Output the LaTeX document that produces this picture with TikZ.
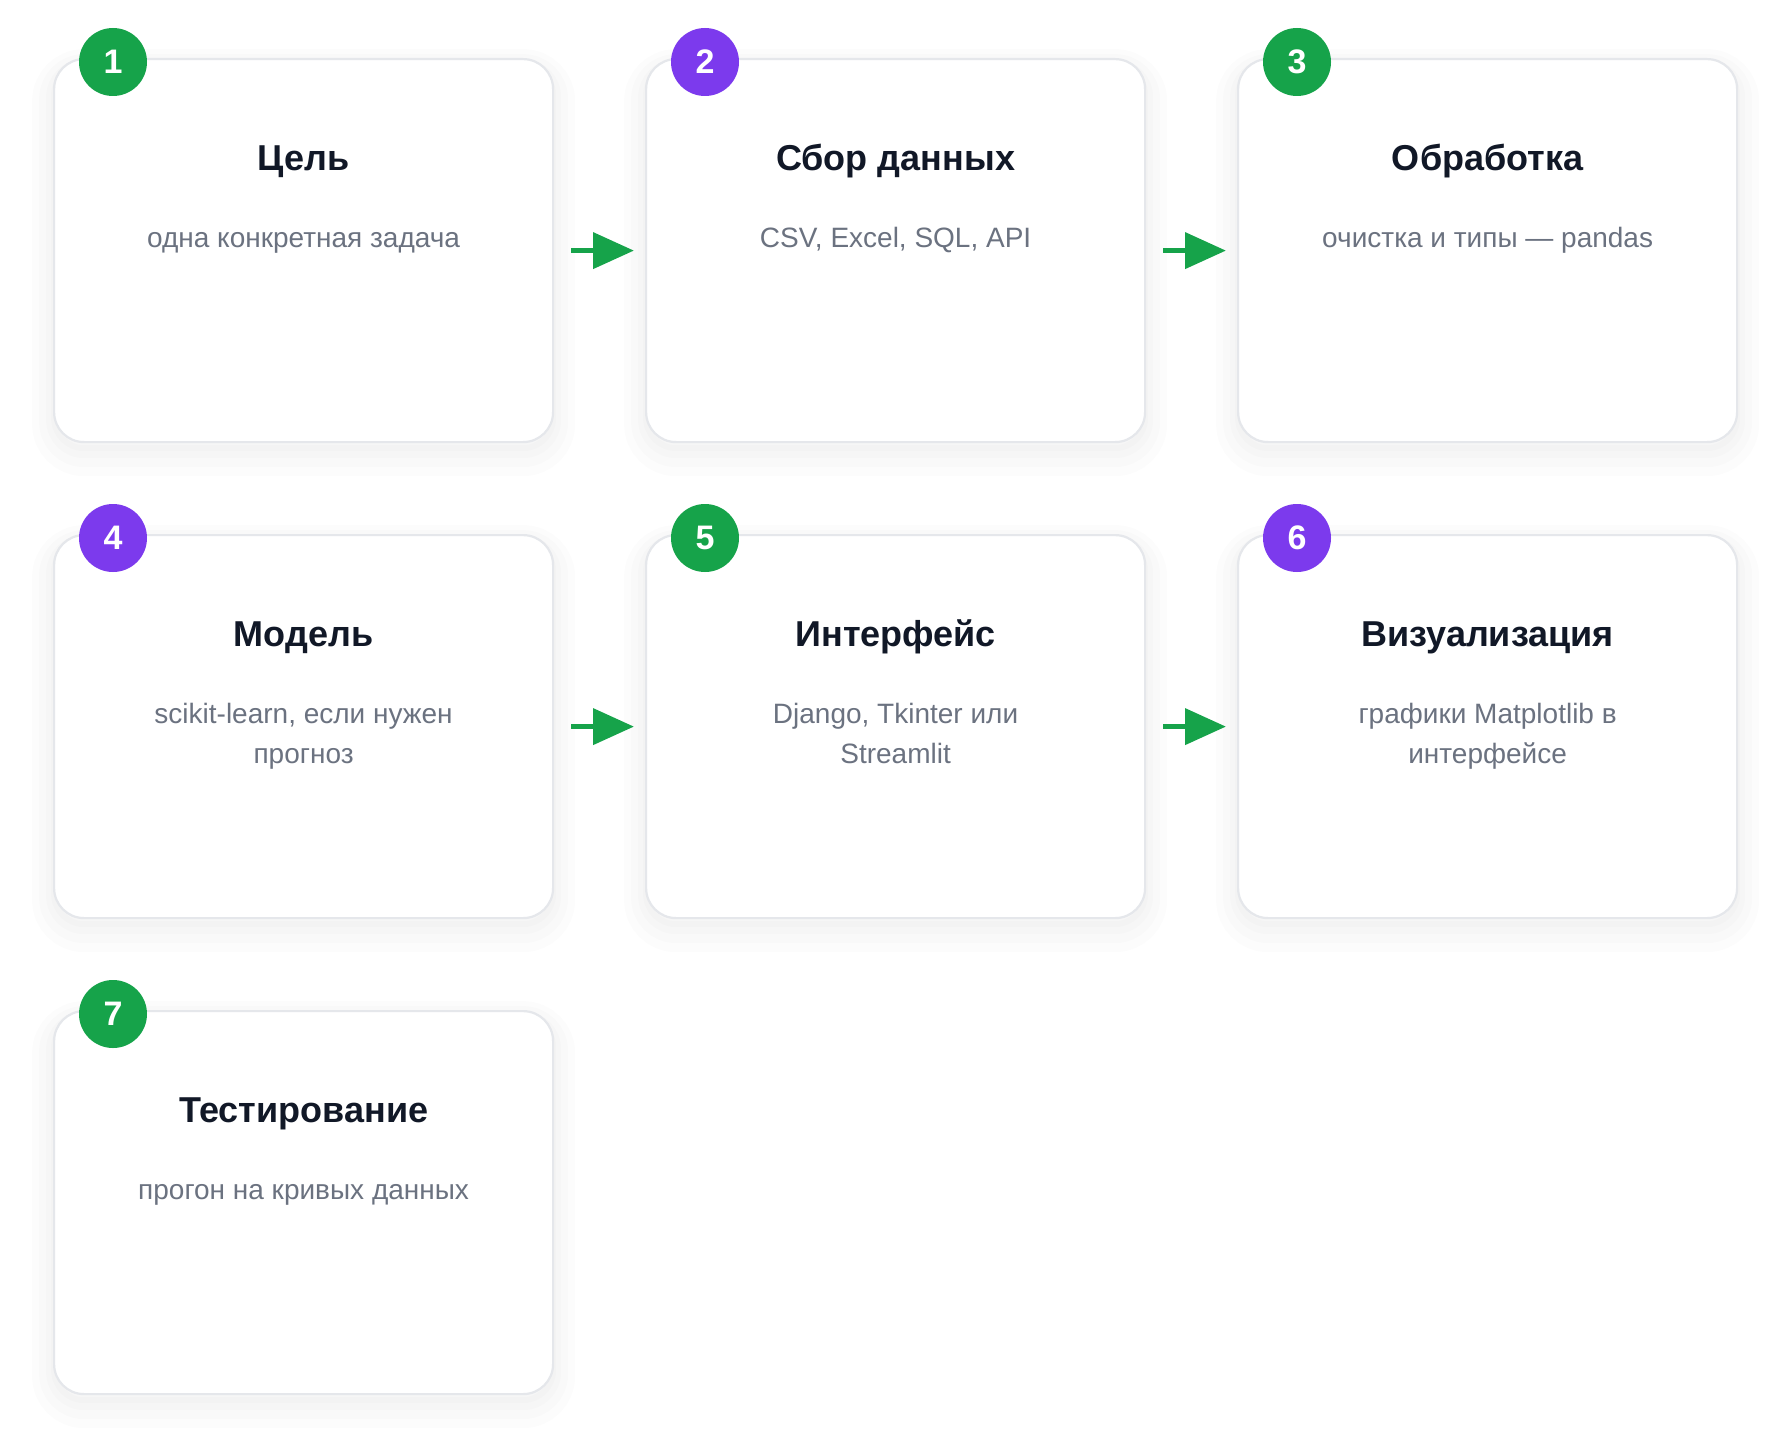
\documentclass[tikz,border=0pt]{standalone}
\usepackage{fontspec}
\setmainfont{Liberation Sans}
\usetikzlibrary{arrows.meta}
\definecolor{stepgreen}{HTML}{16A34A}
\definecolor{steppurple}{HTML}{7C3AED}
\definecolor{cardline}{HTML}{E5E7EB}
\definecolor{titleink}{HTML}{111827}
\definecolor{noteink}{HTML}{6B7280}
\begin{document}
\begin{tikzpicture}[x=1pt,y=-1pt,
  card/.style={draw=cardline, line width=2.2pt, fill=white, rounded corners=30pt,
    minimum width=499pt, minimum height=383pt, anchor=north west, inner sep=0pt,
    preaction={draw=black, draw opacity=0.012, line width=44pt, transform canvas={yshift=-12pt}},
    preaction={draw=black, draw opacity=0.012, line width=30pt, transform canvas={yshift=-10pt}},
    preaction={draw=black, draw opacity=0.012, line width=16pt, transform canvas={yshift=-8pt}},
    preaction={draw=black, draw opacity=0.012, line width=6pt, transform canvas={yshift=-6pt}}},
  badge/.style={circle, minimum size=68pt, inner sep=0pt, text=white,
    font=\fontsize{34}{34}\selectfont\bfseries},
  head/.style={anchor=base, text=titleink, font=\fontsize{36}{40}\selectfont\bfseries},
  note/.style={anchor=north, align=center, inner sep=0pt, text=noteink,
    font=\fontsize{28}{40}\selectfont},
  flow/.style={draw=stepgreen, line width=5.7pt, -{Triangle[length=41pt,width=35.5pt]},
    shorten <=17pt, shorten >=11pt}]
\fill[white] (0,0) rectangle (1790,1453);
\useasboundingbox (0,0) rectangle (1790,1453);
% cards
\node[card] (b1) at (53,58) {};
\node[card] (b2) at (645,58) {};
\node[card] (b3) at (1237,58) {};
\node[card] (b4) at (53,534) {};
\node[card] (b5) at (645,534) {};
\node[card] (b6) at (1237,534) {};
\node[card] (b7) at (53,1010) {};
% numbers
\node[badge, fill=stepgreen] (n1) at ([shift={(60pt,-4pt)}]b1.north west) {1};
\node[badge, fill=steppurple] (n2) at ([shift={(60pt,-4pt)}]b2.north west) {2};
\node[badge, fill=stepgreen] (n3) at ([shift={(60pt,-4pt)}]b3.north west) {3};
\node[badge, fill=steppurple] (n4) at ([shift={(60pt,-4pt)}]b4.north west) {4};
\node[badge, fill=stepgreen] (n5) at ([shift={(60pt,-4pt)}]b5.north west) {5};
\node[badge, fill=steppurple] (n6) at ([shift={(60pt,-4pt)}]b6.north west) {6};
\node[badge, fill=stepgreen] (n7) at ([shift={(60pt,-4pt)}]b7.north west) {7};
% titles
\node[head] (t1) at ([yshift=-112pt]b1.north) {Цель};
\node[head] (t2) at ([yshift=-112pt]b2.north) {Сбор данных};
\node[head] (t3) at ([yshift=-112pt]b3.north) {Обработка};
\node[head] (t4) at ([yshift=-112pt]b4.north) {Модель};
\node[head] (t5) at ([yshift=-112pt]b5.north) {Интерфейс};
\node[head] (t6) at ([yshift=-112pt]b6.north) {Визуализация};
\node[head] (t7) at ([yshift=-112pt]b7.north) {Тестирование};
% notes
\node[note] (s1) at ([yshift=-161pt]b1.north) {\strut одна конкретная задача};
\node[note] (s2) at ([yshift=-161pt]b2.north) {\strut CSV, Excel, SQL, API};
\node[note] (s3) at ([yshift=-161pt]b3.north) {\strut очистка и типы — pandas};
\node[note] (s4) at ([yshift=-161pt]b4.north) {\strut scikit-learn, если нужен\\\strut прогноз};
\node[note] (s5) at ([yshift=-161pt]b5.north) {\strut Django, Tkinter или\\\strut Streamlit};
\node[note] (s6) at ([yshift=-161pt]b6.north) {\strut графики Matplotlib в\\\strut интерфейсе};
\node[note] (s7) at ([yshift=-161pt]b7.north) {\strut прогон на кривых данных};
% arrows
\draw[flow] (b1) -- (b2);
\draw[flow] (b2) -- (b3);
\draw[flow] (b4) -- (b5);
\draw[flow] (b5) -- (b6);
\end{tikzpicture}
\end{document}
